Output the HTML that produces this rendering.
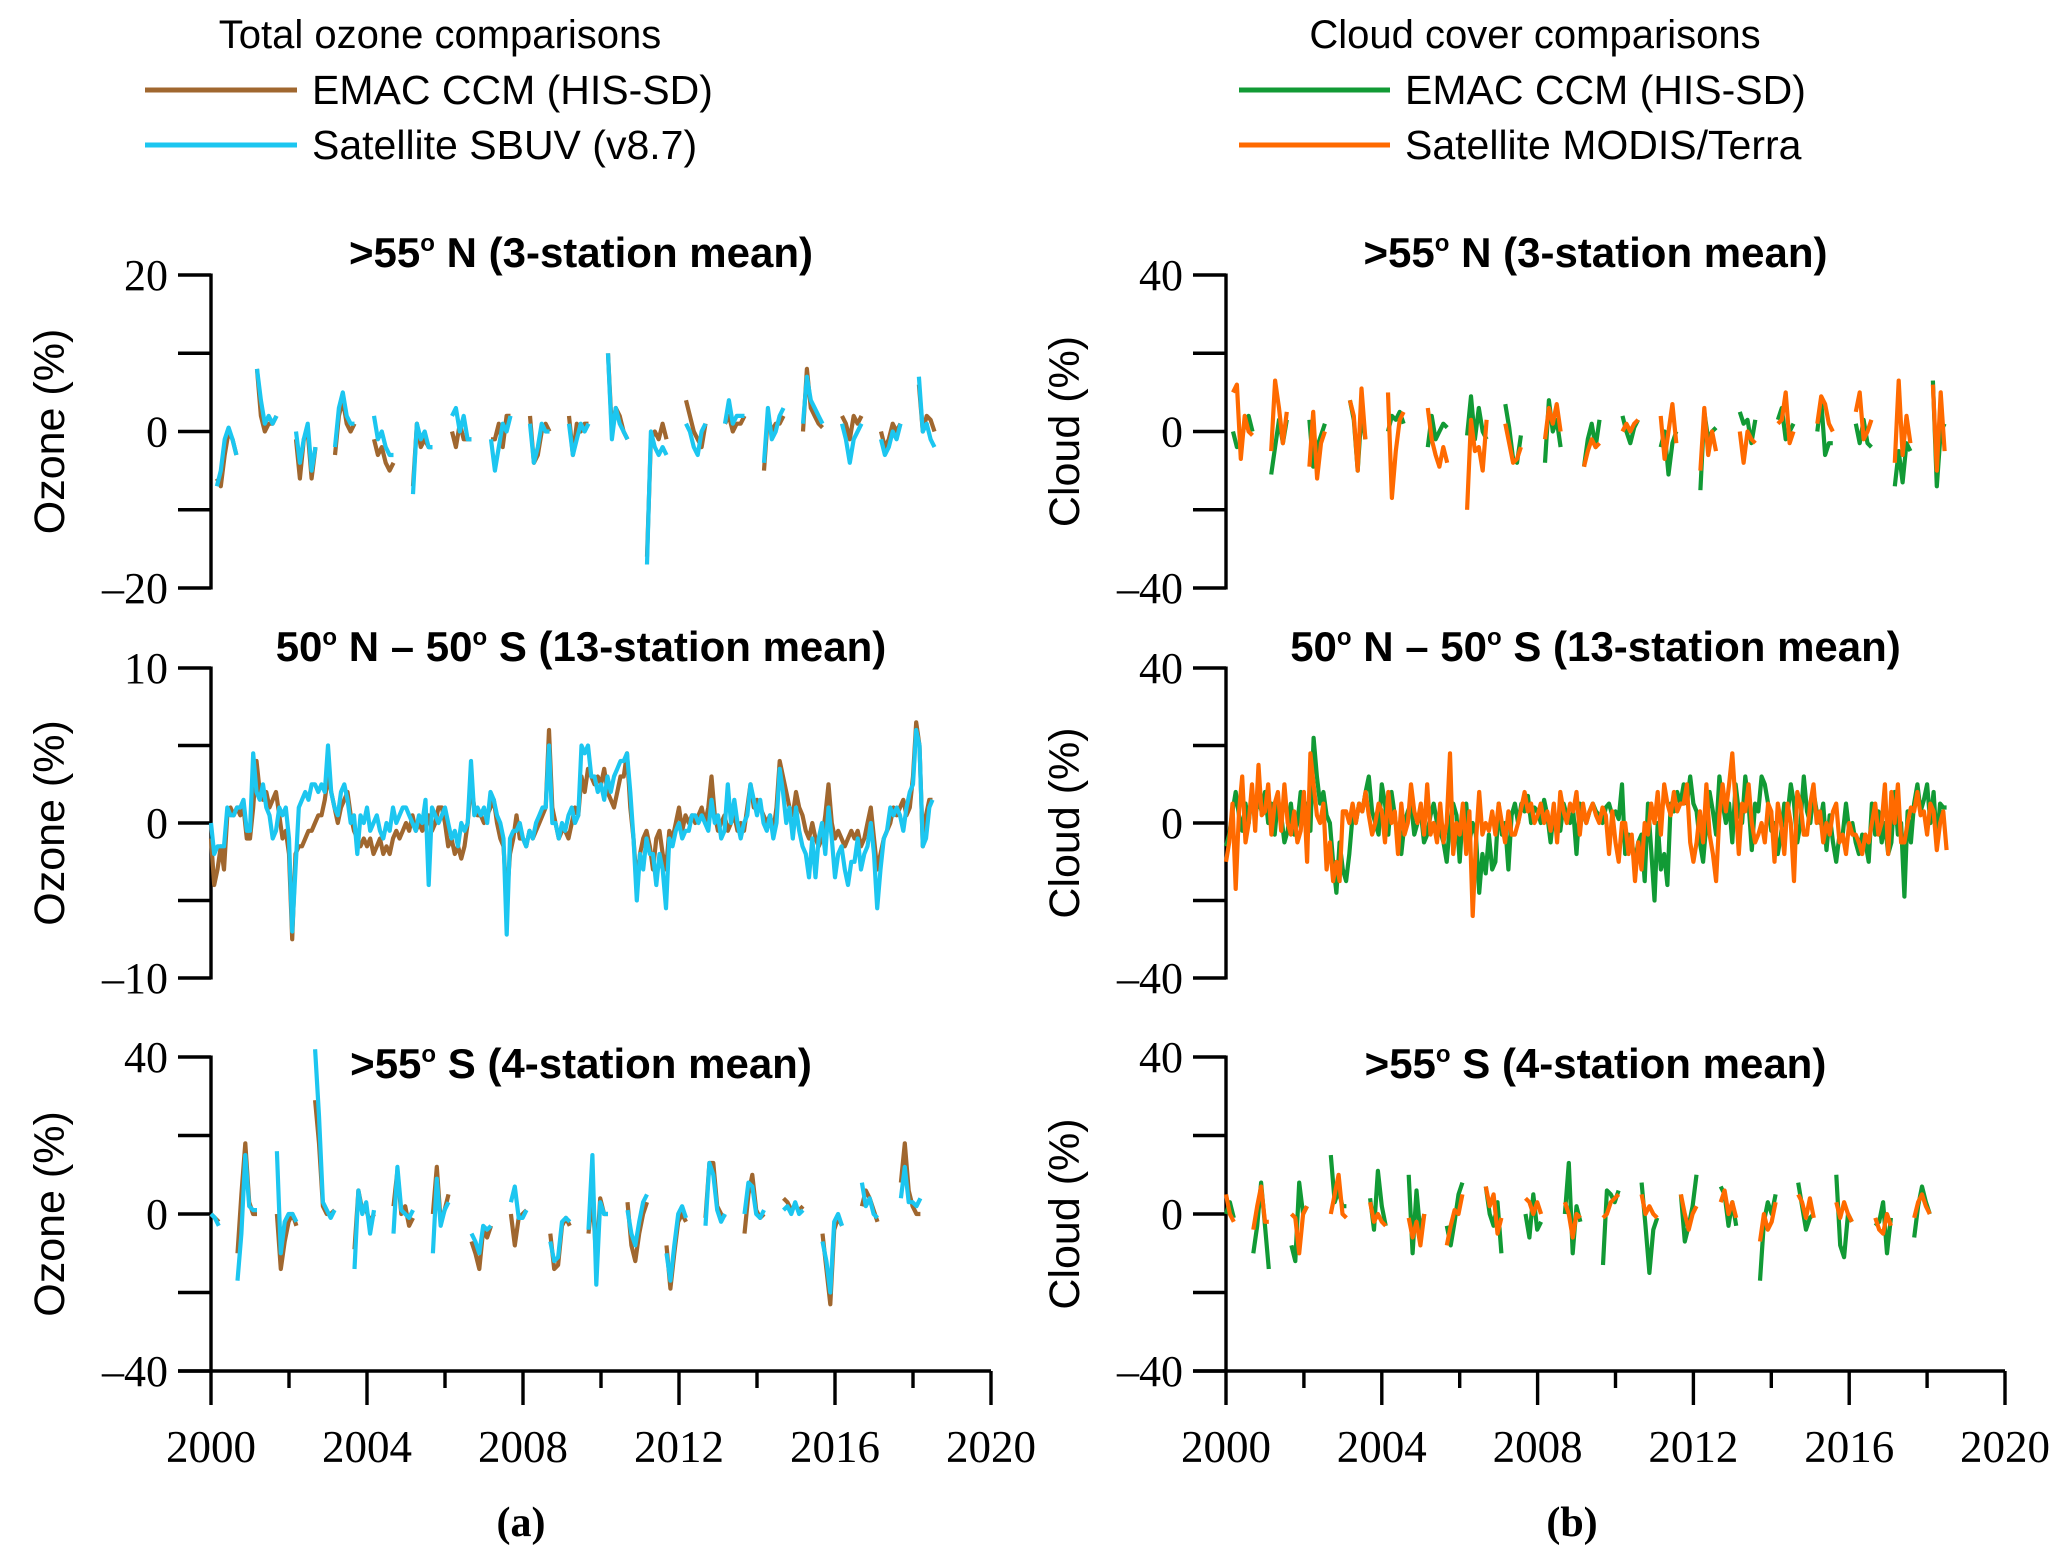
<!DOCTYPE html>
<html><head><meta charset="utf-8"><style>
html,body{margin:0;padding:0;background:#fff;}
svg{display:block;}
</style></head><body>
<svg id="fig" width="2067" height="1559" viewBox="0 0 2067 1559" xmlns="http://www.w3.org/2000/svg">
<g font-family="'Liberation Sans', Arial, sans-serif" fill="#000">
<text x="440" y="48" font-size="40" text-anchor="middle">Total ozone comparisons</text>
<line x1="145" y1="90" x2="297" y2="90" stroke="#a0672f" stroke-width="5"/>
<text x="312" y="104" font-size="41">EMAC CCM (HIS-SD)</text>
<line x1="145" y1="145" x2="297" y2="145" stroke="#1cc6f0" stroke-width="5"/>
<text x="312" y="159" font-size="41">Satellite SBUV (v8.7)</text>
<text x="1535" y="48" font-size="40" text-anchor="middle">Cloud cover comparisons</text>
<line x1="1239" y1="90" x2="1390" y2="90" stroke="#119a35" stroke-width="5"/>
<text x="1405" y="104" font-size="41">EMAC CCM (HIS-SD)</text>
<line x1="1239" y1="145" x2="1390" y2="145" stroke="#ff6a00" stroke-width="5"/>
<text x="1405" y="159" font-size="41">Satellite MODIS/Terra</text>
</g>
<text x="521" y="1536" font-family="'Liberation Serif', serif" font-weight="bold" font-size="42" text-anchor="middle">(a)</text>
<text x="1572" y="1536" font-family="'Liberation Serif', serif" font-weight="bold" font-size="42" text-anchor="middle">(b)</text>
<g id="plots"></g>
</svg>
<script>
// ---------- data ----------
const xTickYears = [2000,2004,2008,2012,2016,2020];
const ozTopTicks = [20,0,-20];
const ozMidTicks = [10,0,-10];
const ozBotTicks = [40,0,-40];
const cloudTicks = [40,0,-40];

const ozMidEmac = [
-1,-4,-3,-1.5,-3,0.5,1,0.5,1,0.5,1,-1,
-1,1,4,2,1.5,2,1,1.5,2,0.5,-1,-0.5,
-2,-7.5,-2,-1.5,-1.5,-1,-0.5,-0.5,0,0.5,0.5,1.5,
3,2,1,0,1,1.5,2,0.5,-0.5,-1,-1.5,-1,
-1.5,-1,-2,-1.5,-1,-2,-1.5,-2,-1,-0.5,-1,-0.5,
0,-0.5,0.5,-0.5,0,-0.5,0,0.5,-0.5,0,1,1,
0,-1.5,-1,-2,-1.5,-2.3,-1.5,0,2.5,1,0.5,0.5,
0,0.5,1,1.5,0,-1,-1.5,-5,-2,-1,0.5,-1,
-1,-1.5,-0.5,-1,-0.5,0,0.5,1,6,1,0,-1,
-0.5,-0.5,-1,0,1,0.5,3,2,3.5,3,2.5,3,
2.5,3.5,2,1.5,1,2,3,3,4.5,1,-1,-4,
-2,-1,-0.5,-1.5,-3,-1,-0.5,-2,-3,-0.5,-1,0,
1,-0.5,0.5,0,0.5,0,0.5,1,0,1,3,0.5,
-0.5,0,0.5,-0.5,0,0.5,-0.5,0,-0.5,1,2.5,1,
1.5,1,0.5,0,0.5,-0.5,1,4,3,2,1,0.5,
2,1,0.5,-0.5,-1,0,-1,-1.5,-1,0.5,2.5,0,
-1,-0.5,-1,-1.5,-1,-0.5,-1,-0.5,-1.5,-1,0,1,
-1,-3,-2,-1,-0.5,0,1,0.5,1,1.5,0.5,1,
3,6.5,5,-1.5,0.5,1.5,1.5];
const ozMidSbuv = [
0,-2,-1.5,-1.5,-1.5,1,0.5,0.5,1,1,1.5,-0.5,
-0.5,4.5,2,1.5,2.5,1,0.5,-1,-0.5,1,0.5,1,
-1,-7,-3,1,1.5,2,1.5,2.5,2.5,2,2.5,2,
5,2,1,0.5,2,2.5,1.5,0,0.5,-2,0.5,0,
1,-0.5,0,0.5,-0.5,-1,0,-0.5,1,0,0.5,1,
1,0.5,0,-0.5,0.5,0,1.5,-4,1,0.5,0,0.5,
1,0,-1,-0.5,-1.5,0,-0.5,0,4,0.5,1,0.5,
1,0,2,1.5,0.5,0,-1,-7.2,-1,-0.5,-0.5,0,
-1,-1.5,-0.5,-1,0,0.5,1,1,5,0,0,-1,
0,-0.5,0.5,1,0,0.5,5,4.5,5,3,3,2,
2.5,1.5,3,2,3,3.5,4,4,4.5,2,-1,-5,
-2,-3,-1,-2,-2,-4,-2,-3,-5.5,-1,-1.5,-0.5,
0,-1,-0.5,-0.5,0.5,0.5,0,0.5,0,-0.5,1.5,0,
0.5,-1,-0.5,2.5,0,1.5,0,-1,0,0.5,2.5,1.5,
0.5,1.5,0,-0.5,0.5,-1,0,3.5,2,0,1,-1,
1,-0.5,-1.5,-2,-3.5,-1,-3.5,-1,0,-2,1,-1,
-3.5,-2,-1.5,-3,-4,-2.5,-2.5,-1,-3,-2,-1.5,0,
-2,-5.5,-3,-1,-0.5,1,0.5,1,0.5,-0.5,1,2,
2.5,6,5,-1.5,-1,1,1.5];
const cloudMidEmac = [
-6,-3,3,8,2,-2,5,0,8,2,6,3,
8,0,5,-3,6,2,-5,-2,5,-3,0,8,
3,5,-2,22,12,5,8,2,0,-10,-18,-5,
-12,-15,-8,2,0,5,3,8,12,3,0,-3,
10,5,-3,8,2,-5,-8,0,3,5,-3,0,
3,-5,-3,2,5,0,-2,-5,-10,0,5,2,
-10,3,5,-5,0,-3,-18,-8,-13,-3,-12,-10,
5,-3,0,-12,2,5,0,5,3,7,0,4,
3,0,6,2,-5,3,0,-2,5,2,0,3,
-8,5,3,0,3,5,3,2,0,4,5,2,
3,1,10,-8,-3,-5,-10,-5,-3,-15,5,-7,
-20,0,-12,-8,-16,5,3,8,5,10,5,12,
5,3,-5,-10,0,8,3,-3,12,5,0,5,
-5,10,3,0,12,5,-7,5,3,12,10,5,
-2,0,-8,-3,5,2,10,5,-5,0,12,3,
0,8,3,0,5,-7,2,-5,-10,-3,-3,5,
-2,0,-5,-8,-3,-5,-10,5,-3,3,-5,0,
-8,-5,8,-3,0,-19,3,-5,5,10,3,6,
10,0,8,-5,5,4,4];
const cloudMidModis = [
-10,-5,5,-17,3,12,-5,0,10,-2,15,2,
3,10,-3,5,8,-2,10,0,-3,3,-5,-2,
8,-10,18,10,2,0,5,-12,-5,-15,-10,-15,
3,3,0,5,0,5,3,8,2,-3,0,5,
3,-5,8,0,3,-8,5,-3,0,10,3,0,
5,-3,10,-3,0,-5,5,-5,0,18,-8,0,
-3,5,-8,3,-24,-5,8,-3,0,-2,3,-3,
5,0,-5,3,-3,-3,0,4,8,3,5,0,
2,5,0,3,-2,5,-5,8,3,0,5,3,
8,-3,5,0,3,5,2,0,4,2,-8,3,
-5,-10,0,0,-8,-3,-15,-5,-12,0,-3,5,
0,8,-3,10,5,2,8,3,5,5,10,-5,
-10,-5,3,-5,10,-3,-8,-15,2,10,3,10,
18,5,-8,5,3,10,0,-5,-3,0,-5,5,
3,-10,5,0,-8,5,0,-15,8,5,-3,-3,
5,10,0,3,-5,0,-3,3,5,-5,-3,-8,
0,-3,-3,-5,-8,-3,-5,0,5,-3,0,10,
-8,8,0,10,-5,-5,0,4,3,8,2,3,
-3,5,3,-7,0,3,-7];

const ozTopStarts = [2000.15,2001.18,2002.18,2003.18,2004.18,2005.18,2006.18,2007.18,2008.18,2009.18,2010.18,2011.18,2012.18,2013.18,2014.18,2015.18,2016.18,2017.18,2018.15];
const ozTopEmac = [[-6,-7,-3,0,-1,-3],[8,2,0,1,1,2],[-1,-6,-1,0,-6,-2],[-3,2,4,1,0,1],[-1,-3,-2,-4,-5,-4],[-7,1,-2,-1,-2,-2],[0,-2,1,-1,-1,-1],[-1,-1,1,-2,2,2],[2,-4,-3,0,1,0],[2,-3,1,0,1,1],[10,0,3,2,0,-1],[-16,-1,0,-1,1,-1],[4,2,0,-1,-2,1],[1,2,0,1,1,2],[-5,2,0,1,1,2],[0,8,3,2,1,0.5],[2,1,-1,2,1,2],[0,-2,-1,1,0,1],[6,0,2,1.5,0]];
const ozTopSbuv = [[-7,-5,-1,0.5,-1,-3],[8,4,1,2,1,2],[0,-4,-1,1,-5,-2],[-2,3,5,2,1,1],[2,-1,0,-2,-3,-3],[-8,1,-1,0,-2,-2],[2,3,0,2,-1,-1],[-1,-5,-2,1,0,2],[1,-4,-2,1,0,0],[1,-3,-1,1,0,1],[10,-1,3,1,0,-1],[-17,0,-2,-3,-2,-3],[1,0,-2,-3,0,1],[1,4,1,2,2,2],[-4,3,-1,0,2,3],[1,7,4,3,2,1],[1,-1,-4,-1,0,1],[-1,-3,-2,0,-1,1],[7,0,1,-1,-2]];

const ozBotStarts = [2000.0,2000.68,2001.69,2002.67,2003.68,2004.68,2005.69,2006.68,2007.69,2008.7,2009.68,2010.68,2011.68,2012.68,2013.68,2014.68,2015.68,2016.69,2017.69];
const ozBotEmac = [[0,-1,-2],[-10,5,18,3,0,0],[0,-14,-7,-2,0,-3],[29,18,2,0,0,1],[-9,6,1,1,-2,0],[2,11,0,2,-3,-1],[0,12,-2,1,5],[-7,-10,-14,-4,-6,-3],[0,-8,-1,0,1],[-5,-14,-13,-3,-1,-3],[-5,5,-12,4,0,0],[3,-8,-12,-5,0,3],[-8,-19,-10,-2,0,-2],[-1,13,13,2,0,-1],[-5,5,10,1,-1,0],[4,3,1,2,1,2],[-5,-14,-23,-4,-1,-3],[2,6,4,1,-2],[8,18,6,2,0,0]];
const ozBotSbuv = [[0,-1,-3],[-17,-5,15,2,1,1],[16,-10,-2,0,0,-2],[42,25,3,1,-1,1],[-14,6,0,3,-5,1],[-5,12,1,0,-1,1],[-10,9,-3,1,3],[-5,-7,-10,-3,-4,-3],[3,7,-1,-1,1],[-7,-12,-11,-2,-1,-2],[-4,15,-18,3,0,0],[1,-5,-8,-2,3,5],[-10,-17,-8,0,2,-1],[-3,13,10,1,-2,0],[0,8,7,0,-1,1],[1,2,0,3,0,1],[-7,-12,-20,-2,0,-3],[8,2,4,0,-1],[4,12,3,3,2,4]];

const cloudTopStarts = [2000.18,2001.16,2002.14,2003.18,2004.16,2005.18,2006.19,2007.17,2008.19,2009.19,2010.18,2011.16,2012.18,2013.19,2014.17,2015.18,2016.17,2017.17,2018.15];
const cloudTopEmac = [[0,-4,-3,2,4,0],[-11,-4,3,-3,3],[3,-9,-4,-1,2],[8,3,-10,5,-2],[0,4,3,5,2],[-4,4,-2,0,2,1],[-1,9,-2,6,0,-2],[7,1,-7,-8,-1],[-8,8,0,3,-4],[-9,-2,2,-4,3],[4,0,-3,1,3],[-4,0,-11,-3,0],[-15,5,-2,0,1],[5,2,3,-3,3],[3,6,-2,0,2],[0,8,-6,-3,-3],[2,-3,3,-3,-4],[-14,-5,-13,-3,-5],[13,-14,0,2]];
const cloudTopModis = [[10,12,-7,4,0,-1],[-5,13,6,-3,5],[-9,5,-12,-3,0],[8,4,-10,11,-2],[10,-17,-5,3,5],[6,-2,-6,-9,-4,-8],[-20,3,-5,-4,-10,3],[2,-3,-8,-7,-4],[-2,6,2,7,0],[-9,-5,-2,-4,-3],[0,2,0,2,3],[4,-7,0,7,-3],[-10,6,-6,0,-5],[0,-8,0,-2,-3],[2,3,10,-3,0],[2,9,7,2,0],[5,10,-2,0,3],[-8,13,-6,4,-3],[12,-10,10,-5]];

const cloudBotStarts = [2000.0,2000.7,2001.68,2002.69,2003.7,2004.69,2005.67,2006.67,2007.69,2008.7,2009.68,2010.67,2011.68,2012.7,2013.71,2014.69,2015.67,2016.67,2017.67];
const cloudBotEmac = [[0,3,-1],[-10,-3,8,-3,-14],[-8,-12,8,0,2],[15,3,6,2,2],[4,-4,11,2,-3],[10,-10,6,-5,0],[-3,-8,-2,5,8],[7,0,-3,3,-10],[0,-6,5,-4,-2],[0,13,-10,2,-2],[-13,6,5,3,6],[8,-3,-15,-4,-1],[5,-7,-3,2,10],[7,5,-3,3,-3],[-17,-2,3,0,5],[8,2,-4,-1,0],[10,-8,-11,0,-2],[-3,-2,3,-10,-1],[-6,2,7,3,0]];
const cloudBotModis = [[5,0,-2],[-4,2,7,-2,-2],[0,-1,-10,0,2],[0,5,10,0,-1],[3,-2,0,-2,-3],[-1,-6,-2,-8,0],[-8,-3,1,0,5],[7,2,5,-5,-1],[4,3,0,3,0],[3,0,-6,0,-1],[-1,0,3,4,5],[5,0,2,0,-1],[5,0,-4,0,2],[3,6,0,3,-1],[-7,0,-4,-2,3],[5,3,-1,4,-1],[3,-1,3,0,-2],[-1,-4,-5,0,-3],[-1,3,5,2,0]];

// ---------- drawing ----------
const NS = 'http://www.w3.org/2000/svg';
const root = document.getElementById('plots');
function mk(tag, attrs, parent) {
  const e = document.createElementNS(NS, tag);
  for (const k in attrs) e.setAttribute(k, attrs[k]);
  (parent || root).appendChild(e);
  return e;
}
const COLS = { emacOz:'#a0672f', sbuv:'#1cc6f0', emacCl:'#119a35', modis:'#ff6a00' };
const colX = [{x0:211, x1:991}, {x0:1226, x1:2005}];
const rows = [{top:275, bot:588, tb:267}, {top:668, bot:978, tb:661}, {top:1057, bot:1371, tb:1078}];

function makeX(c){ return yr => c.x0 + (yr-2000)/20*(c.x1-c.x0); }
function makeY(r, vmax){ return v => r.top + (vmax - v)/(2*vmax)*(r.bot-r.top); }

function axesY(c, r, vmax, labels, title, ylab, name){
  const g = mk('g', {});
  
  
  const Y = makeY(r, vmax);
  const ax = mk('line', {x1:c.x0, y1:r.top-1.5, x2:c.x0, y2:r.bot+1.5, stroke:'#000', 'stroke-width':3.4}, g);
  
  
  for (let k=0; k<5; k++){
    const v = vmax - k*vmax/2;
    const t = mk('line', {x1:c.x0-33, y1:Y(v), x2:c.x0, y2:Y(v), stroke:'#000', 'stroke-width':3.4}, g);
    
    
  }
  labels.forEach(v => {
    const t = mk('text', {x:c.x0-43, y:Y(v)+15, 'font-family':"'Liberation Serif', serif", 'font-size':44, 'text-anchor':'end'}, g);
    t.textContent = v < 0 ? '\u2013' + Math.abs(v) : String(v);
    
    
  });
  const ly = (r.top + r.bot)/2;
  const lx = c.x0 - 147;
  const yl = mk('text', {x:lx, y:ly, transform:`rotate(-90 ${lx} ${ly})`, 'font-family':"'Liberation Sans', sans-serif", 'font-size':43, 'text-anchor':'middle'}, g);
  yl.textContent = ylab;
  
  
  const tt = mk('text', {x:(c.x0+c.x1)/2 - 20, y:r.tb, 'font-family':"'Liberation Sans', sans-serif", 'font-weight':'bold', 'font-size':42, 'text-anchor':'middle'}, g);
  
  
  title.forEach(p => {
    const s = mk('tspan', p.sup ? {'font-size':24, dy:-16} : (p.after ? {dy:16} : {}), tt);
    s.textContent = p.t;
  });
  return g;
}
function axesX(c, r){
  const X = makeX(c);
  const g = mk('g', {});
  
  
  mk('line', {x1:c.x0-33, y1:r.bot, x2:c.x1, y2:r.bot, stroke:'#000', 'stroke-width':3.4}, g);
  for (let yr=2000; yr<=2020; yr+=2){
    const major = (yr-2000)%4===0;
    const t = mk('line', {x1:X(yr), y1:r.bot, x2:X(yr), y2:r.bot+(major?34:17), stroke:'#000', 'stroke-width':3.4}, g);
    
    
  }
  xTickYears.forEach(yr => {
    const t = mk('text', {x:X(yr), y:1462, 'font-family':"'Liberation Serif', serif", 'font-size':45, 'text-anchor':'middle'}, g);
    t.textContent = String(yr);
    
    
  });
}
function lineMonthly(c, r, vmax, vals, col, name){
  const X = makeX(c), Y = makeY(r, vmax);
  const d = vals.map((v,i) => (i?'L':'M') + X(2000+i/12).toFixed(1) + ' ' + Y(v).toFixed(1)).join(' ');
  const p = mk('path', {d, fill:'none', stroke:col, 'stroke-width':4.2, 'stroke-linejoin':'round'});
  
  
}
function lineSegs(c, r, vmax, starts, segs, col, name){
  const X = makeX(c), Y = makeY(r, vmax);
  let d = '';
  segs.forEach((seg, s) => {
    seg.forEach((v, i) => { d += (i?'L':'M') + X(starts[s] + i*0.1).toFixed(1) + ' ' + Y(v).toFixed(1) + ' '; });
  });
  const p = mk('path', {d, fill:'none', stroke:col, 'stroke-width':4.2, 'stroke-linejoin':'round'});
  
  
}

const tNH = [{t:'>55'},{t:'o',sup:true},{t:' N (3-station mean)',after:true}];
const tTR = [{t:'50'},{t:'o',sup:true},{t:' N \u2013 50',after:true},{t:'o',sup:true},{t:' S (13-station mean)',after:true}];
const tSH = [{t:'>55'},{t:'o',sup:true},{t:' S (4-station mean)',after:true}];

const A = colX[0], B = colX[1];
axesY(A, rows[0], 20, ozTopTicks, tNH, 'Ozone (%)', 'panel-ozone-nh');
axesY(A, rows[1], 10, ozMidTicks, tTR, 'Ozone (%)', 'panel-ozone-tropics');
axesY(A, rows[2], 40, ozBotTicks, tSH, 'Ozone (%)', 'panel-ozone-sh');
axesY(B, rows[0], 40, cloudTicks, tNH, 'Cloud (%)', 'panel-cloud-nh');
axesY(B, rows[1], 40, cloudTicks, tTR, 'Cloud (%)', 'panel-cloud-tropics');
axesY(B, rows[2], 40, cloudTicks, tSH, 'Cloud (%)', 'panel-cloud-sh');
axesX(A, rows[2]); axesX(B, rows[2]);

lineSegs(A, rows[0], 20, ozTopStarts, ozTopEmac, COLS.emacOz, 'line-emac-ozone-nh');
lineSegs(A, rows[0], 20, ozTopStarts, ozTopSbuv, COLS.sbuv, 'line-sbuv-ozone-nh');
lineMonthly(A, rows[1], 10, ozMidEmac, COLS.emacOz, 'line-emac-ozone-tropics');
lineMonthly(A, rows[1], 10, ozMidSbuv, COLS.sbuv, 'line-sbuv-ozone-tropics');
lineSegs(A, rows[2], 40, ozBotStarts, ozBotEmac, COLS.emacOz, 'line-emac-ozone-sh');
lineSegs(A, rows[2], 40, ozBotStarts, ozBotSbuv, COLS.sbuv, 'line-sbuv-ozone-sh');
lineSegs(B, rows[0], 40, cloudTopStarts, cloudTopEmac, COLS.emacCl, 'line-emac-cloud-nh');
lineSegs(B, rows[0], 40, cloudTopStarts, cloudTopModis, COLS.modis, 'line-modis-cloud-nh');
lineMonthly(B, rows[1], 40, cloudMidEmac, COLS.emacCl, 'line-emac-cloud-tropics');
lineMonthly(B, rows[1], 40, cloudMidModis, COLS.modis, 'line-modis-cloud-tropics');
lineSegs(B, rows[2], 40, cloudBotStarts, cloudBotEmac, COLS.emacCl, 'line-emac-cloud-sh');
lineSegs(B, rows[2], 40, cloudBotStarts, cloudBotModis, COLS.modis, 'line-modis-cloud-sh');
</script>
</body></html>
